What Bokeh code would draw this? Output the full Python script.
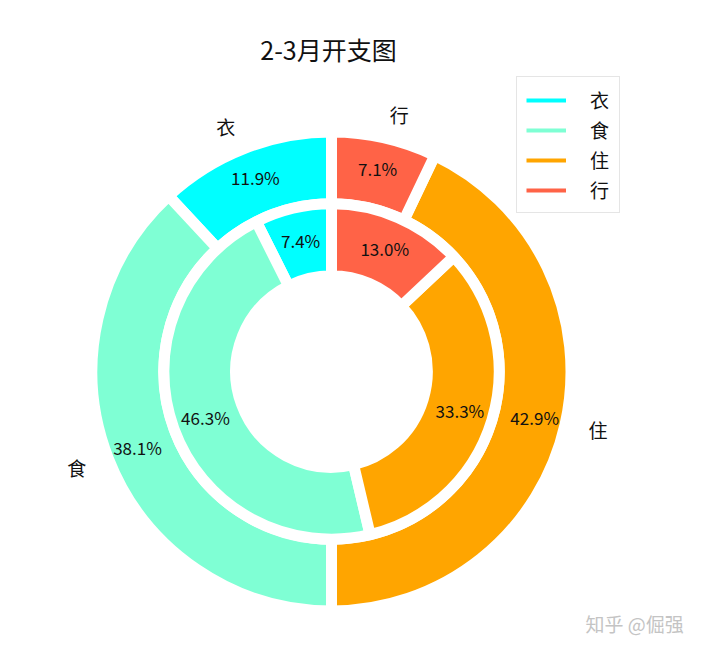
import numpy as np
from bokeh.plotting import figure
from bokeh.models import ColumnDataSource, Label, Legend, LegendItem, Range1d
from bokeh.core.properties import value
from bokeh.embed import file_html
from bokeh.resources import INLINE

categories = ["衣", "食", "住", "行"]
outer_pct = [11.9, 38.1, 42.9, 7.1]    # 3月
inner_pct = [7.4, 46.3, 33.3, 13.0]    # 2月
colors = ["#00FFFF", "#7FFFD4", "#FFA500", "#FF6347"]

FONT = "Noto Sans CJK SC"
W, H = 700, 636
S = 239.5            # pixels per unit radius
CX, CY = 331, 371    # pie centre on canvas (from top-left)


def ring(vals, radius, width, pctdist):
    v = np.array(vals, dtype=float)
    frac = v / v.sum()
    ends = np.pi / 2 + 2 * np.pi * np.cumsum(frac)
    starts = ends - 2 * np.pi * frac
    mids = (starts + ends) / 2
    src = ColumnDataSource(dict(
        start=starts, end=ends, color=colors,
        tx=radius * pctdist * np.cos(mids),
        ty=radius * pctdist * np.sin(mids),
        pct=["%.1f%%" % x for x in v],
    ))
    p.annular_wedge(x=0, y=0, inner_radius=radius - width, outer_radius=radius,
                    start_angle="start", end_angle="end", fill_color="color",
                    line_color="white", line_width=11, source=src)
    p.text(x="tx", y="ty", text="pct", source=src, text_align="center",
           text_baseline="middle", text_font=value(FONT), text_font_size="17px",
           text_color="#111111")
    return mids


p = figure(width=W, height=H, output_backend="svg", toolbar_location=None,
           x_axis_location=None, y_axis_location=None, min_border=0,
           x_range=Range1d(-CX / S, (W - CX) / S),
           y_range=Range1d(-(H - CY) / S, CY / S))
p.grid.visible = False
p.outline_line_color = None

mids = ring(outer_pct, 1.0, 0.3, 0.87)
ring(inner_pct, 0.7, 0.3, 0.8)

# category labels round the outer ring
ld = 1.1
lx = ld * np.cos(mids)
ly = ld * np.sin(mids)
for side, align in ((np.cos(mids) < 0, "right"), (np.cos(mids) >= 0, "left")):
    src = ColumnDataSource(dict(x=lx[side], y=ly[side],
                                t=[c for c, s in zip(categories, side) if s]))
    p.text(x="x", y="y", text="t", source=src, text_align=align,
           text_baseline="middle", text_font=value(FONT), text_font_size="19px",
           text_color="#111111")

# legend with line handles (dummy lines, never visible in the plot area)
items = []
for c, col in zip(categories, colors):
    r = p.line(x=[np.nan], y=[np.nan], line_color=col, line_width=4)
    items.append(LegendItem(label=c, renderers=[r]))
legend = Legend(items=items, location=(516, H - 213), label_text_font=FONT,
                label_text_font_size="19px", label_text_color="#111111",
                glyph_width=40, glyph_height=20, label_height=20, label_standoff=24,
                spacing=3, padding=9, margin=0,
                border_line_color="#cccccc", border_line_width=1,
                background_fill_alpha=0.8)
p.add_layout(legend)

p.add_layout(Label(x=328, y=H - 48, x_units="screen", y_units="screen",
                   text="2-3月开支图", text_align="center", text_baseline="middle",
                   text_font=FONT, text_font_size="25px", text_color="#111111"))
p.add_layout(Label(x=585, y=H - 623, x_units="screen", y_units="screen",
                   text="知乎  @倔强", text_align="left", text_baseline="middle",
                   text_font=FONT, text_font_size="19px", text_color="#c4c4c4"))

open("out.html", "w").write(file_html(p, INLINE))
